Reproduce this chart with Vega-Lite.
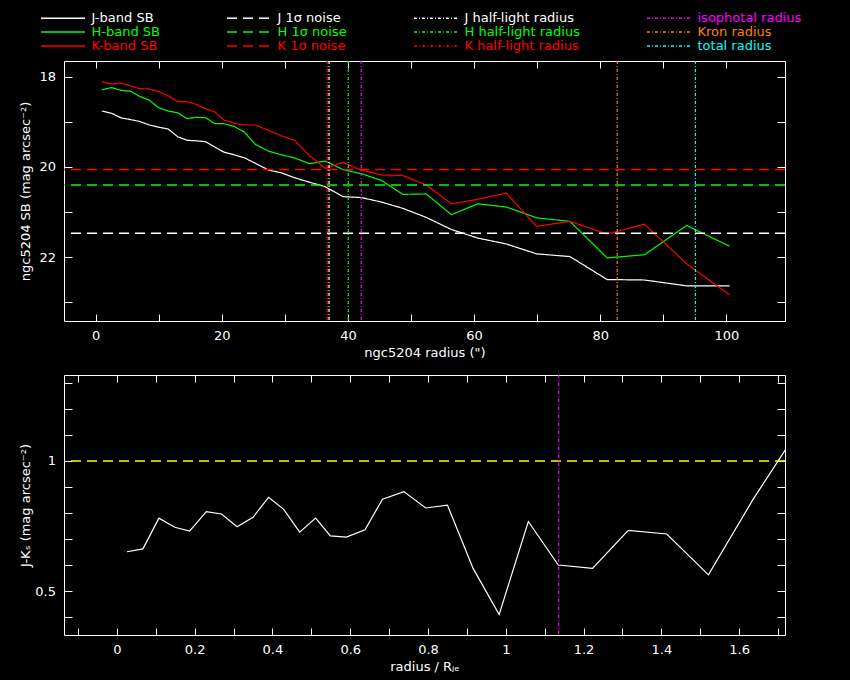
{
  "$schema": "https://vega.github.io/schema/vega-lite/v6.json",
  "description": "ngc5204 J/H/K surface brightness profiles and J-Ks colour profile",
  "background": "black",
  "padding": {"left": 18, "top": 11, "right": 40, "bottom": 6},
  "bounds": "flush",
  "spacing": 54,
  "resolve": {"scale": {"color": "independent", "strokeDash": "independent"}},
  "config": {
    "font": "DejaVu Sans",
    "view": {"stroke": "white", "strokeWidth": 1},
    "axis": {
      "domain": false,
      "grid": false,
      "tickColor": "white",
      "tickWidth": 1,
      "labelColor": "white",
      "titleColor": "white",
      "labelFont": "DejaVu Sans",
      "titleFont": "DejaVu Sans",
      "labelFontSize": 13,
      "titleFontSize": 13,
      "titleFontWeight": "normal"
    },
    "axisX": {"tickSize": -7, "labelPadding": 15, "titlePadding": 4},
    "axisY": {"tickSize": -8, "labelPadding": 16.5, "titlePadding": 7, "minExtent": 25, "maxExtent": 25}
  },
  "vconcat": [
    {
      "width": 721,
      "height": 260,
      "layer": [
        {
          "data": {
            "values": [
              {"r": 0.96, "series": "J-band SB", "sb": 18.76}, {"r": 2.5, "series": "J-band SB", "sb": 18.81},
              {"r": 4.0, "series": "J-band SB", "sb": 18.91}, {"r": 5.5, "series": "J-band SB", "sb": 18.95},
              {"r": 6.9, "series": "J-band SB", "sb": 18.99}, {"r": 8.5, "series": "J-band SB", "sb": 19.07},
              {"r": 10.0, "series": "J-band SB", "sb": 19.12}, {"r": 11.5, "series": "J-band SB", "sb": 19.16},
              {"r": 13.0, "series": "J-band SB", "sb": 19.33}, {"r": 14.5, "series": "J-band SB", "sb": 19.41},
              {"r": 15.9, "series": "J-band SB", "sb": 19.42}, {"r": 17.4, "series": "J-band SB", "sb": 19.44},
              {"r": 18.9, "series": "J-band SB", "sb": 19.56}, {"r": 20.3, "series": "J-band SB", "sb": 19.67},
              {"r": 21.9, "series": "J-band SB", "sb": 19.73}, {"r": 23.6, "series": "J-band SB", "sb": 19.8},
              {"r": 25.3, "series": "J-band SB", "sb": 19.92}, {"r": 27.4, "series": "J-band SB", "sb": 20.07},
              {"r": 29.4, "series": "J-band SB", "sb": 20.13}, {"r": 31.5, "series": "J-band SB", "sb": 20.24},
              {"r": 33.9, "series": "J-band SB", "sb": 20.34}, {"r": 36.4, "series": "J-band SB", "sb": 20.44},
              {"r": 39.2, "series": "J-band SB", "sb": 20.66}, {"r": 42.1, "series": "J-band SB", "sb": 20.68},
              {"r": 45.3, "series": "J-band SB", "sb": 20.78}, {"r": 48.7, "series": "J-band SB", "sb": 20.92},
              {"r": 52.4, "series": "J-band SB", "sb": 21.12}, {"r": 56.4, "series": "J-band SB", "sb": 21.39},
              {"r": 60.6, "series": "J-band SB", "sb": 21.58}, {"r": 65.1, "series": "J-band SB", "sb": 21.71},
              {"r": 69.9, "series": "J-band SB", "sb": 21.93}, {"r": 75.2, "series": "J-band SB", "sb": 21.99},
              {"r": 81.1, "series": "J-band SB", "sb": 22.5}, {"r": 87.0, "series": "J-band SB", "sb": 22.51},
              {"r": 93.7, "series": "J-band SB", "sb": 22.64}, {"r": 100.5, "series": "J-band SB", "sb": 22.64},
              {"r": 0.96, "series": "H-band SB", "sb": 18.29}, {"r": 2.5, "series": "H-band SB", "sb": 18.24},
              {"r": 4.0, "series": "H-band SB", "sb": 18.3}, {"r": 5.5, "series": "H-band SB", "sb": 18.32},
              {"r": 6.9, "series": "H-band SB", "sb": 18.43}, {"r": 8.5, "series": "H-band SB", "sb": 18.52},
              {"r": 10.0, "series": "H-band SB", "sb": 18.69}, {"r": 11.5, "series": "H-band SB", "sb": 18.76},
              {"r": 13.0, "series": "H-band SB", "sb": 18.8}, {"r": 14.5, "series": "H-band SB", "sb": 18.93},
              {"r": 15.9, "series": "H-band SB", "sb": 18.9}, {"r": 17.4, "series": "H-band SB", "sb": 18.91},
              {"r": 18.9, "series": "H-band SB", "sb": 19.04}, {"r": 20.3, "series": "H-band SB", "sb": 19.04},
              {"r": 21.9, "series": "H-band SB", "sb": 19.1}, {"r": 23.6, "series": "H-band SB", "sb": 19.23},
              {"r": 25.3, "series": "H-band SB", "sb": 19.5}, {"r": 27.4, "series": "H-band SB", "sb": 19.65},
              {"r": 29.4, "series": "H-band SB", "sb": 19.73}, {"r": 31.5, "series": "H-band SB", "sb": 19.8},
              {"r": 33.9, "series": "H-band SB", "sb": 19.93}, {"r": 36.4, "series": "H-band SB", "sb": 19.87},
              {"r": 39.2, "series": "H-band SB", "sb": 20.06}, {"r": 42.1, "series": "H-band SB", "sb": 20.15},
              {"r": 45.3, "series": "H-band SB", "sb": 20.3}, {"r": 48.7, "series": "H-band SB", "sb": 20.61},
              {"r": 52.4, "series": "H-band SB", "sb": 20.6}, {"r": 56.4, "series": "H-band SB", "sb": 21.06},
              {"r": 60.6, "series": "H-band SB", "sb": 20.82}, {"r": 65.1, "series": "H-band SB", "sb": 20.89},
              {"r": 69.9, "series": "H-band SB", "sb": 21.13}, {"r": 75.2, "series": "H-band SB", "sb": 21.21},
              {"r": 81.1, "series": "H-band SB", "sb": 22.02}, {"r": 87.0, "series": "H-band SB", "sb": 21.95},
              {"r": 93.7, "series": "H-band SB", "sb": 21.3}, {"r": 100.5, "series": "H-band SB", "sb": 21.76},
              {"r": 0.96, "series": "K-band SB", "sb": 18.11}, {"r": 2.5, "series": "K-band SB", "sb": 18.16},
              {"r": 4.0, "series": "K-band SB", "sb": 18.14}, {"r": 5.5, "series": "K-band SB", "sb": 18.2},
              {"r": 6.9, "series": "K-band SB", "sb": 18.26}, {"r": 8.5, "series": "K-band SB", "sb": 18.27},
              {"r": 10.0, "series": "K-band SB", "sb": 18.33}, {"r": 11.5, "series": "K-band SB", "sb": 18.42},
              {"r": 13.0, "series": "K-band SB", "sb": 18.55}, {"r": 14.5, "series": "K-band SB", "sb": 18.55},
              {"r": 15.9, "series": "K-band SB", "sb": 18.61}, {"r": 17.4, "series": "K-band SB", "sb": 18.71},
              {"r": 18.9, "series": "K-band SB", "sb": 18.78}, {"r": 20.3, "series": "K-band SB", "sb": 18.96},
              {"r": 21.9, "series": "K-band SB", "sb": 19.03}, {"r": 23.6, "series": "K-band SB", "sb": 19.07},
              {"r": 25.3, "series": "K-band SB", "sb": 19.07}, {"r": 27.4, "series": "K-band SB", "sb": 19.19},
              {"r": 29.4, "series": "K-band SB", "sb": 19.31}, {"r": 31.5, "series": "K-band SB", "sb": 19.41},
              {"r": 33.9, "series": "K-band SB", "sb": 19.75}, {"r": 36.4, "series": "K-band SB", "sb": 20.03},
              {"r": 39.2, "series": "K-band SB", "sb": 19.9}, {"r": 42.1, "series": "K-band SB", "sb": 20.07},
              {"r": 45.3, "series": "K-band SB", "sb": 20.18}, {"r": 48.7, "series": "K-band SB", "sb": 20.19},
              {"r": 52.4, "series": "K-band SB", "sb": 20.4}, {"r": 56.4, "series": "K-band SB", "sb": 20.82},
              {"r": 60.6, "series": "K-band SB", "sb": 20.72}, {"r": 65.1, "series": "K-band SB", "sb": 20.58},
              {"r": 69.9, "series": "K-band SB", "sb": 21.32}, {"r": 75.2, "series": "K-band SB", "sb": 21.21},
              {"r": 81.1, "series": "K-band SB", "sb": 21.49}, {"r": 87.0, "series": "K-band SB", "sb": 21.27},
              {"r": 93.7, "series": "K-band SB", "sb": 22.15}, {"r": 100.5, "series": "K-band SB", "sb": 22.84}
            ]
          },
          "mark": {"type": "line", "strokeWidth": 1.2, "clip": true},
          "encoding": {
            "x": {
              "field": "r", "type": "quantitative",
              "scale": {"domain": [-5.03, 109.3], "nice": false, "zero": false},
              "axis": {"orient": "bottom", "values": [0, 10, 20, 30, 40, 50, 60, 70, 80, 90, 100], "labelExpr": "datum.value % 20 == 0 ? datum.label : ''", "title": "ngc5204 radius (\")"}
            },
            "y": {
              "field": "sb", "type": "quantitative",
              "scale": {"domain": [17.65, 23.42], "nice": false, "zero": false, "reverse": true},
              "axis": {"orient": "left", "values": [18, 19, 20, 21, 22, 23], "labelExpr": "datum.value % 2 == 0 ? datum.label : ''", "title": "ngc5204 SB (mag arcsec⁻²)"}
            },
            "color": {
              "field": "series", "type": "nominal",
              "scale": {
                "domain": ["J-band SB", "J 1σ noise", "J half-light radius", "isophotal radius", "H-band SB", "H 1σ noise", "H half-light radius", "Kron radius", "K-band SB", "K 1σ noise", "K half-light radius", "total radius"],
                "range": ["#ffffff", "#ffffff", "#ffffff", "#ff00ff", "#00ff00", "#00ff00", "#00ff00", "#ff8000", "#ff0000", "#ff0000", "#ff0000", "#00ffff"]
              },
              "legend": {
                "orient": "none", "legendX": -29.5, "legendY": -49.5, "direction": "horizontal",
                "columns": 4, "columnPadding": 60, "rowPadding": -2, "padding": 0,
                "title": null,
                "symbolType": "M0,0H8", "symbolSize": 121, "symbolStrokeWidth": 1.5,
                "labelOffset": 44, "labelFontSize": 13, "labelFont": "DejaVu Sans", "labelLimit": 300,
                "encode": {
                  "symbols": {"update": {"strokeDash": {"signal": "indexof(datum.label, 'radius') >= 0 ? [1.5, 3.5] : indexof(datum.label, 'noise') >= 0 ? [10, 6] : [1, 0]"}}},
                  "labels": {"update": {"fill": [
                    {"test": "datum.label == 'isophotal radius'", "value": "#ff00ff"},
                    {"test": "datum.label == 'Kron radius'", "value": "#ff8000"},
                    {"test": "datum.label == 'total radius'", "value": "#00ffff"},
                    {"test": "indexof(datum.label, 'H') == 0", "value": "#00ff00"},
                    {"test": "indexof(datum.label, 'K') == 0", "value": "#ff0000"},
                    {"value": "#ffffff"}
                  ]}}
                }
              }
            },
            "strokeDash": {
              "field": "series", "type": "nominal", "legend": null,
              "scale": {
                "domain": ["J-band SB", "J 1σ noise", "J half-light radius", "isophotal radius", "H-band SB", "H 1σ noise", "H half-light radius", "Kron radius", "K-band SB", "K 1σ noise", "K half-light radius", "total radius"],
                "range": [[1, 0], [10, 6], [3, 2, 1, 2], [3, 2, 1, 2], [1, 0], [10, 6], [3, 2, 1, 2], [3, 2, 1, 2], [1, 0], [10, 6], [3, 2, 1, 2], [3, 2, 1, 2]]
              }
            }
          }
        },
        {
          "data": {
            "values": [
              {"series": "J 1σ noise", "sb": 21.47},
              {"series": "H 1σ noise", "sb": 20.4},
              {"series": "K 1σ noise", "sb": 20.06}
            ]
          },
          "mark": {"type": "rule", "strokeWidth": 1.5},
          "encoding": {
            "y": {
              "field": "sb", "type": "quantitative",
              "scale": {"domain": [17.65, 23.42], "nice": false, "zero": false, "reverse": true},
              "axis": {"orient": "right", "values": [18, 19, 20, 21, 22, 23], "labels": false, "title": null}
            },
            "color": {"field": "series", "type": "nominal"},
            "strokeDash": {"field": "series", "type": "nominal"}
          }
        },
        {
          "data": {
            "values": [
              {"series": "K half-light radius", "r": 36.7},
              {"series": "J half-light radius", "r": 37.0},
              {"series": "H half-light radius", "r": 40.05},
              {"series": "isophotal radius", "r": 42.1},
              {"series": "Kron radius", "r": 82.7},
              {"series": "total radius", "r": 95.1}
            ]
          },
          "mark": {"type": "rule", "strokeWidth": 1.2},
          "encoding": {
            "x": {
              "field": "r", "type": "quantitative",
              "scale": {"domain": [-5.03, 109.3], "nice": false, "zero": false},
              "axis": {"orient": "top", "values": [0, 10, 20, 30, 40, 50, 60, 70, 80, 90, 100], "labels": false, "title": null}
            },
            "color": {"field": "series", "type": "nominal"},
            "strokeDash": {"field": "series", "type": "nominal"}
          }
        }
      ]
    },
    {
      "width": 721,
      "height": 260,
      "layer": [
        {
          "data": {
            "values": [
              {"x": 0.026, "jk": 0.651}, {"x": 0.067, "jk": 0.662}, {"x": 0.108, "jk": 0.78},
              {"x": 0.149, "jk": 0.745}, {"x": 0.187, "jk": 0.73}, {"x": 0.23, "jk": 0.805},
              {"x": 0.269, "jk": 0.796}, {"x": 0.309, "jk": 0.747}, {"x": 0.35, "jk": 0.783},
              {"x": 0.39, "jk": 0.86}, {"x": 0.429, "jk": 0.814}, {"x": 0.47, "jk": 0.726},
              {"x": 0.511, "jk": 0.78}, {"x": 0.549, "jk": 0.712}, {"x": 0.59, "jk": 0.707},
              {"x": 0.638, "jk": 0.735}, {"x": 0.683, "jk": 0.853}, {"x": 0.738, "jk": 0.882},
              {"x": 0.794, "jk": 0.819}, {"x": 0.85, "jk": 0.83}, {"x": 0.916, "jk": 0.587},
              {"x": 0.983, "jk": 0.41}, {"x": 1.058, "jk": 0.767}, {"x": 1.135, "jk": 0.6},
              {"x": 1.223, "jk": 0.587}, {"x": 1.315, "jk": 0.733}, {"x": 1.414, "jk": 0.719},
              {"x": 1.521, "jk": 0.562}, {"x": 1.635, "jk": 0.85}, {"x": 1.757, "jk": 1.13}
            ]
          },
          "mark": {"type": "line", "color": "white", "strokeWidth": 1.2, "clip": true},
          "encoding": {
            "x": {
              "field": "x", "type": "quantitative",
              "scale": {"domain": [-0.136, 1.718], "nice": false, "zero": false},
              "axis": {"orient": "bottom", "values": [-0.1, 0, 0.1, 0.2, 0.3, 0.4, 0.5, 0.6, 0.7, 0.8, 0.9, 1, 1.1, 1.2, 1.3, 1.4, 1.5, 1.6, 1.7], "format": "~g", "labelExpr": "datum.value >= 0 && abs(round(datum.value * 10)) % 2 == 0 ? datum.label : ''", "title": "radius / Rⱼₑ"}
            },
            "y": {
              "field": "jk", "type": "quantitative",
              "scale": {"domain": [0.331, 1.33], "nice": false, "zero": false},
              "axis": {"orient": "left", "values": [0.4, 0.5, 0.6, 0.7, 0.8, 0.9, 1, 1.1, 1.2, 1.3], "format": "~g", "labelExpr": "datum.value == 0.5 || datum.value == 1 ? datum.label : ''", "title": "J-Kₛ (mag arcsec⁻²)"}
            }
          }
        },
        {
          "data": {"values": [{"jk": 1}]},
          "mark": {"type": "rule", "color": "#ffff00", "strokeWidth": 1.5, "strokeDash": [10, 6]},
          "encoding": {
            "y": {
              "field": "jk", "type": "quantitative",
              "scale": {"domain": [0.331, 1.33], "nice": false, "zero": false},
              "axis": {"orient": "right", "values": [0.4, 0.5, 0.6, 0.7, 0.8, 0.9, 1, 1.1, 1.2, 1.3], "labels": false, "title": null}
            }
          }
        },
        {
          "data": {"values": [{"x": 1.136}]},
          "mark": {"type": "rule", "color": "#ff00ff", "strokeWidth": 1.2, "strokeDash": [3, 2, 1, 2]},
          "encoding": {
            "x": {
              "field": "x", "type": "quantitative",
              "scale": {"domain": [-0.136, 1.718], "nice": false, "zero": false},
              "axis": {"orient": "top", "values": [-0.1, 0, 0.1, 0.2, 0.3, 0.4, 0.5, 0.6, 0.7, 0.8, 0.9, 1, 1.1, 1.2, 1.3, 1.4, 1.5, 1.6, 1.7], "labels": false, "title": null}
            }
          }
        }
      ]
    }
  ]
}
